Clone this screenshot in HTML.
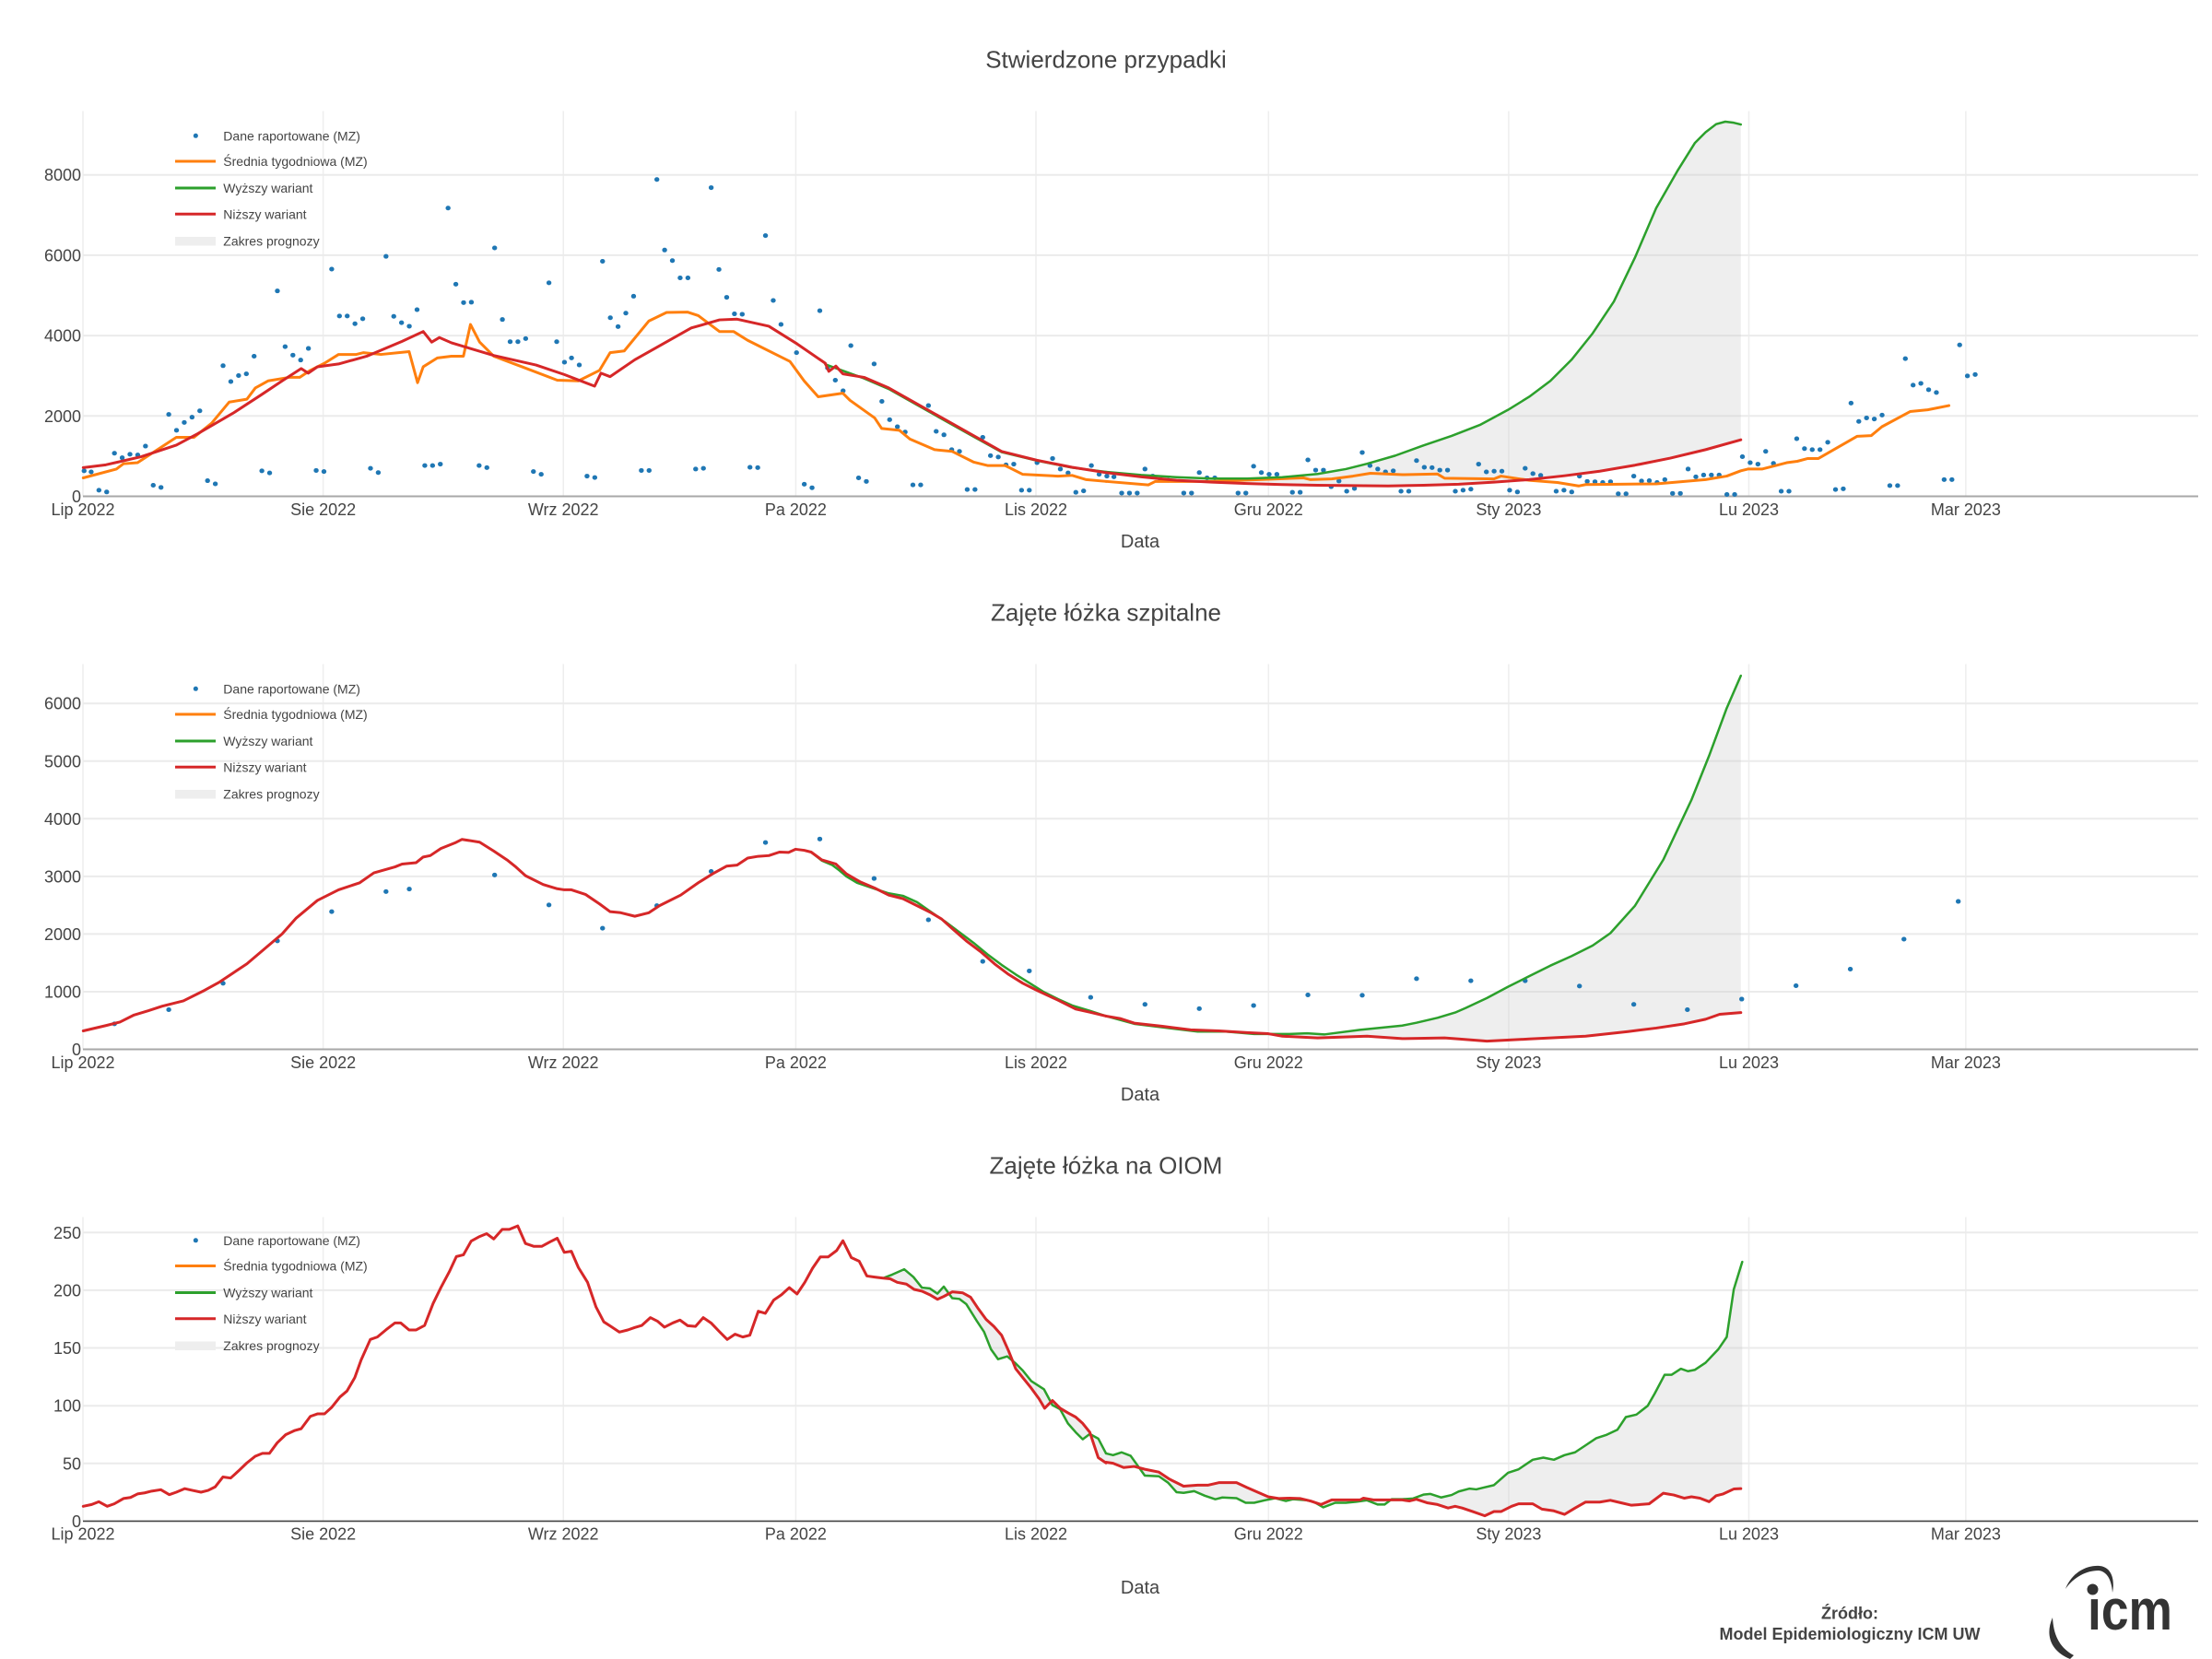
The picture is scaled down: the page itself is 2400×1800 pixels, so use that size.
<!DOCTYPE html>
<html><head><meta charset="utf-8"><style>
html,body{margin:0;padding:0;background:#fff}
svg{display:block}
text{font-family:"Liberation Sans",sans-serif;fill:#444}
.t{font-size:26px}
.tk{font-size:18px}
.lg{font-size:14px}
.ax{font-size:20px}
.ln{fill:none;stroke-linejoin:round;stroke-linecap:round}
</style></head><body>
<svg width="2400" height="1800" viewBox="0 0 2400 1800" xmlns="http://www.w3.org/2000/svg">
<rect width="2400" height="1800" fill="#fff"/>
<defs>
<g id="vg">
<path d="M90 0V418M350.6 0V418M611.2 0V418M863.4 0V418M1124 0V418M1376.3 0V418M1636.9 0V418M1897.5 0V418M2132.9 0V418" stroke="#eeeeee" stroke-width="1.5"/>
</g>
<g id="xl">
<text class="tk" x="90" text-anchor="middle">Lip 2022</text>
<text class="tk" x="350.6" text-anchor="middle">Sie 2022</text>
<text class="tk" x="611.2" text-anchor="middle">Wrz 2022</text>
<text class="tk" x="863.4" text-anchor="middle">Pa 2022</text>
<text class="tk" x="1124" text-anchor="middle">Lis 2022</text>
<text class="tk" x="1376.3" text-anchor="middle">Gru 2022</text>
<text class="tk" x="1636.9" text-anchor="middle">Sty 2023</text>
<text class="tk" x="1897.5" text-anchor="middle">Lu 2023</text>
<text class="tk" x="2132.9" text-anchor="middle">Mar 2023</text>
</g>
<g id="leg">
<path d="M212.3 147.3h0.1" stroke="#1f77b4" stroke-width="5" stroke-linecap="round"/>
<path d="M190 175H234" stroke="#ff7f0e" stroke-width="3"/>
<path d="M190 204H234" stroke="#2ca02c" stroke-width="3"/>
<path d="M190 232.3H234" stroke="#d62728" stroke-width="3"/>
<rect x="190" y="257" width="44" height="9.5" fill="#eeeeee"/>
<text class="lg" x="242.3" y="152.3">Dane raportowane (MZ)</text>
<text class="lg" x="242.3" y="180">Średnia tygodniowa (MZ)</text>
<text class="lg" x="242.3" y="209">Wyższy wariant</text>
<text class="lg" x="242.3" y="237.3">Niższy wariant</text>
<text class="lg" x="242.3" y="266.7">Zakres prognozy</text>
</g>
</defs>

<!-- ============ CHART 1 ============ -->
<text class="t" x="1200" y="73.5" text-anchor="middle">Stwierdzone przypadki</text>
<use href="#vg" transform="translate(0,120.5)"/>
<path d="M90 451.3H2385M90 364.1H2385M90 276.9H2385M90 189.7H2385" stroke="#ebebeb" stroke-width="2"/>
<g text-anchor="end">
<text class="tk" x="88" y="545">0</text>
<text class="tk" x="88" y="457.8">2000</text>
<text class="tk" x="88" y="370.6">4000</text>
<text class="tk" x="88" y="283.4">6000</text>
<text class="tk" x="88" y="196.2">8000</text>
</g>
<use href="#xl" transform="translate(0,559)"/>
<text class="ax" x="1237" y="594" text-anchor="middle">Data</text>
<path d="M90 538.5H2385" stroke="#a8a8a8" stroke-width="2"/>

<g transform="translate(1200,0) scale(0.76531,0.38265)">
<path fill="#c8c8c8" fill-opacity="0.3" fill-rule="evenodd" d="M0 1338L50 1347L100 1353L150 1357L200 1357L250 1353L300 1344L340 1330L370 1315L410 1292L450 1263L490 1236L530 1205L570 1162L600 1125L630 1080L660 1020L690 945L720 855L750 730L780 590L810 485L835 405L850 375L865 352L878 345L890 348L900 353L900 1407L0 1407Z M0 1340L50 1352L100 1362L150 1367L200 1371L250 1374L300 1376L350 1377L400 1378L450 1376L500 1373L550 1367L600 1360L650 1349L700 1336L750 1319L800 1299L850 1275L900 1247L900 1407L0 1407Z"/>
</g>

<g transform="scale(0.76531,0.38265)">
<path fill="none" stroke="#1f77b4" stroke-width="5" stroke-linecap="round" vector-effect="non-scaling-stroke" d="M119 1335h.5M129 1338h.5M140 1390h.5M151 1395h.5M162 1285h.5M173 1298h.5M184 1288h.5M195 1290h.5M206 1265h.5M217 1376h.5M228 1382h.5M239 1175h.5M250 1220h.5M261 1198h.5M272 1183h.5M283 1165h.5M294 1363h.5M305 1372h.5M316 1037h.5M327 1082h.5M338 1065h.5M349 1060h.5M360 1010h.5M371 1335h.5M382 1341h.5M393 825h.5M404 983h.5M415 1007h.5M426 1021h.5M437 988h.5M448 1334h.5M459 1337h.5M470 763h.5M481 896h.5M492 896h.5M503 918h.5M514 904h.5M525 1328h.5M536 1340h.5M547 727h.5M558 897h.5M569 915h.5M580 925h.5M591 878h.5M602 1320h.5M613 1320h.5M624 1316h.5M635 590h.5M646 806h.5M657 858h.5M668 857h.5M679 1320h.5M690 1326h.5M701 703h.5M712 906h.5M723 969h.5M734 969h.5M745 960h.5M756 1337h.5M767 1345h.5M778 802h.5M789 969h.5M800 1027h.5M810 1015h.5M821 1035h.5M832 1350h.5M843 1354h.5M854 741h.5M865 901h.5M876 926h.5M887 888h.5M898 840h.5M909 1334h.5M920 1334h.5M931 509h.5M942 709h.5M953 739h.5M964 788h.5M975 788h.5M986 1330h.5M997 1328h.5M1008 532h.5M1019 764h.5M1030 843h.5M1041 890h.5M1052 891h.5M1063 1325h.5M1074 1326h.5M1085 668h.5M1096 852h.5M1107 920h.5M1129 1000h.5M1140 1373h.5M1151 1383h.5M1162 881h.5M1173 1043h.5M1184 1078h.5M1195 1108h.5M1206 980h.5M1217 1355h.5M1228 1365h.5M1239 1032h.5M1250 1138h.5M1261 1190h.5M1272 1210h.5M1283 1225h.5M1294 1375h.5M1305 1375h.5M1316 1150h.5M1327 1223h.5M1338 1233h.5M1349 1275h.5M1360 1280h.5M1371 1388h.5M1382 1388h.5M1393 1240h.5M1404 1292h.5M1415 1296h.5M1426 1318h.5M1437 1316h.5M1448 1390h.5M1459 1390h.5M1470 1312h.5M1492 1300h.5M1503 1330h.5M1514 1341h.5M1525 1396h.5M1536 1392h.5M1547 1320h.5M1558 1345h.5"/>
<polyline class="ln" stroke="#ff7f0e" stroke-width="3" vector-effect="non-scaling-stroke" points="118,1355 165,1330 175,1315 195,1312 250,1240 275,1240 300,1200 325,1140 350,1132 362,1100 380,1080 410,1070 425,1070 440,1050 460,1030 480,1005 505,1005 515,1000 540,1005 580,997 592,1085 600,1040 620,1015 640,1010 657,1010 667,920 680,970 700,1010 740,1040 790,1078 820,1080 850,1050 865,1000 885,995 920,910 945,886 975,885 990,895 1020,940 1040,940 1060,965 1100,1005 1120,1025 1140,1080 1160,1125 1195,1115 1205,1135 1240,1185 1250,1215 1275,1220 1290,1245 1325,1275 1350,1280 1380,1310 1400,1320 1425,1320 1450,1345 1500,1350 1520,1348 1540,1360 1568,1365"/>
<polyline class="ln" stroke="#2ca02c" stroke-width="2.5" vector-effect="non-scaling-stroke" points="1170,1033 1225,1073 1260,1103 1300,1148 1340,1193 1380,1238 1420,1282 1470,1306 1520,1326 1568,1338"/>
<polyline class="ln" stroke="#d62728" stroke-width="3" vector-effect="non-scaling-stroke" points="118,1326 150,1318 200,1295 250,1262 280,1230 330,1172 370,1120 400,1080 427,1045 437,1058 450,1040 480,1032 520,1010 570,968 600,940 612,970 623,957 640,972 700,1008 760,1035 800,1062 843,1095 852,1058 865,1068 900,1020 940,975 980,930 1020,907 1045,905 1090,925 1130,975 1170,1030 1175,1053 1185,1038 1195,1060 1225,1070 1260,1100 1300,1145 1340,1190 1380,1235 1420,1280 1470,1305 1520,1325 1568,1340"/>
</g>

<g transform="translate(1200,0) scale(0.76531,0.38265)">
<path fill="none" stroke="#1f77b4" stroke-width="5" stroke-linecap="round" vector-effect="non-scaling-stroke" d="M1 1350h.5M11 1352h.5M22 1398h.5M33 1398h.5M44 1398h.5M55 1330h.5M66 1350h.5M77 1360h.5M88 1362h.5M110 1398h.5M121 1398h.5M132 1340h.5M143 1355h.5M154 1355h.5M187 1398h.5M198 1398h.5M209 1322h.5M220 1340h.5M231 1345h.5M242 1345h.5M264 1396h.5M275 1396h.5M286 1304h.5M297 1333h.5M308 1333h.5M319 1380h.5M330 1364h.5M341 1393h.5M352 1385h.5M363 1283h.5M374 1320h.5M385 1330h.5M396 1338h.5M407 1335h.5M418 1393h.5M429 1393h.5M440 1306h.5M451 1325h.5M462 1326h.5M473 1333h.5M484 1333h.5M495 1393h.5M506 1390h.5M517 1387h.5M528 1316h.5M539 1338h.5M550 1336h.5M561 1336h.5M572 1390h.5M583 1395h.5M594 1328h.5M605 1343h.5M616 1348h.5M638 1393h.5M649 1390h.5M660 1395h.5M671 1350h.5M682 1365h.5M693 1366h.5M704 1368h.5M715 1366h.5M726 1400h.5M737 1400h.5M748 1350h.5M759 1364h.5M770 1363h.5M781 1368h.5M792 1360h.5M803 1399h.5M814 1399h.5M825 1330h.5M836 1352h.5M847 1347h.5M858 1347h.5M869 1347h.5M880 1402h.5M891 1402h.5M902 1295h.5M913 1312h.5M924 1316h.5M935 1280h.5M946 1314h.5M957 1393h.5M968 1393h.5M979 1244h.5M990 1272h.5M1001 1275h.5M1012 1275h.5M1023 1254h.5M1034 1388h.5M1045 1386h.5M1056 1143h.5M1067 1195h.5M1078 1185h.5M1089 1188h.5M1100 1177h.5M1111 1377h.5M1122 1377h.5M1133 1017h.5M1144 1092h.5M1155 1087h.5M1166 1105h.5M1177 1113h.5M1188 1360h.5M1199 1360h.5M1210 978h.5M1221 1066h.5M1232 1062h.5"/>
<polyline class="ln" stroke="#ff7f0e" stroke-width="3" vector-effect="non-scaling-stroke" points="0,1365 60,1375 70,1365 150,1365 280,1355 290,1360 320,1358 350,1350 375,1342 420,1346 470,1344 480,1356 550,1358 560,1350 600,1362 640,1368 670,1378 680,1374 780,1372 850,1360 880,1350 900,1335 910,1330 930,1330 965,1312 980,1308 995,1300 1010,1300 1065,1237 1085,1235 1100,1210 1140,1167 1165,1162 1195,1150"/>
<polyline class="ln" stroke="#2ca02c" stroke-width="2.5" vector-effect="non-scaling-stroke" points="0,1338 50,1347 100,1353 150,1357 200,1357 250,1353 300,1344 340,1330 370,1315 410,1292 450,1263 490,1236 530,1205 570,1162 600,1125 630,1080 660,1020 690,945 720,855 750,730 780,590 810,485 835,405 850,375 865,352 878,345 890,348 900,353"/>
<polyline class="ln" stroke="#d62728" stroke-width="3" vector-effect="non-scaling-stroke" points="0,1340 50,1352 100,1362 150,1367 200,1371 250,1374 300,1376 350,1377 400,1378 450,1376 500,1373 550,1367 600,1360 650,1349 700,1336 750,1319 800,1299 850,1275 900,1247"/>
</g>
<use href="#leg"/>

<!-- ============ CHART 2 ============ -->
<text class="t" x="1200" y="673.5" text-anchor="middle">Zajęte łóżka szpitalne</text>
<use href="#vg" transform="translate(0,720.5)"/>
<path d="M90 1076H2385M90 1013.4H2385M90 950.9H2385M90 888.3H2385M90 825.8H2385M90 763.2H2385" stroke="#ebebeb" stroke-width="2"/>
<g text-anchor="end">
<text class="tk" x="88" y="1145">0</text>
<text class="tk" x="88" y="1082.5">1000</text>
<text class="tk" x="88" y="1019.9">2000</text>
<text class="tk" x="88" y="957.4">3000</text>
<text class="tk" x="88" y="894.8">4000</text>
<text class="tk" x="88" y="832.3">5000</text>
<text class="tk" x="88" y="769.7">6000</text>
</g>
<use href="#xl" transform="translate(0,1159)"/>
<text class="ax" x="1237" y="1194" text-anchor="middle">Data</text>
<path d="M90 1138.5H2385" stroke="#a8a8a8" stroke-width="2"/>

<g transform="translate(1200,600) scale(0.76531,0.38265)">
<path fill="#c8c8c8" fill-opacity="0.3" fill-rule="evenodd" d="M0 1313L40 1335L80 1345L130 1357L170 1357L210 1364L260 1364L285 1362L310 1365L360 1352L420 1340L440 1332L470 1318L495 1303L510 1290L540 1262L570 1230L600 1200L630 1170L660 1143L690 1113L715 1078L750 1000L790 870L830 700L855 575L880 440L900 348L900 1407L0 1407Z M0 1313L20 1320L40 1333L80 1342L120 1352L160 1355L200 1360L230 1363L250 1370L300 1375L370 1370L420 1377L480 1375L500 1378L540 1384L600 1378L680 1370L740 1357L780 1347L820 1335L850 1322L870 1308L900 1303L900 1407L0 1407Z"/>
</g>
<g transform="translate(0,600) scale(0.76531,0.38265)">
<path fill="none" stroke="#1f77b4" stroke-width="5" stroke-linecap="round" vector-effect="non-scaling-stroke" d="M162 1335h.5M239 1295h.5M316 1220h.5M393 1100h.5M470 1017h.5M547 960h.5M580 953h.5M701 913h.5M778 998h.5M854 1064h.5M931 1000h.5M1008 903h.5M1085 821h.5M1162 811h.5M1239 923h.5M1316 1040h.5M1393 1158h.5M1459 1185h.5M1546 1260h.5"/>
<polyline class="ln" stroke="#2ca02c" stroke-width="2.5" vector-effect="non-scaling-stroke" points="1150,848 1165,872 1180,885 1190,900 1200,917 1215,935 1240,952 1260,965 1280,972 1300,990 1320,1018 1340,1045 1360,1075 1380,1105 1400,1138 1420,1168 1440,1195 1460,1220 1480,1245 1500,1265 1520,1283 1545,1298 1568,1313"/>
<polyline class="ln" stroke="#d62728" stroke-width="3" vector-effect="non-scaling-stroke" points="118,1355 150,1340 170,1330 190,1310 210,1298 230,1285 260,1270 290,1240 310,1218 350,1165 400,1080 420,1035 450,985 480,955 510,935 530,907 560,890 570,882 590,878 600,862 610,858 625,838 645,822 655,812 680,820 700,845 720,872 730,888 745,915 770,940 790,952 800,955 810,955 830,968 850,995 865,1017 880,1020 900,1030 920,1020 935,1000 965,970 990,935 1010,910 1030,888 1045,885 1060,865 1075,860 1090,858 1105,848 1118,849 1128,840 1140,843 1150,848 1165,870 1185,882 1200,910 1220,933 1240,950 1260,970 1280,980 1300,1000 1320,1020 1335,1038 1350,1065 1370,1100 1390,1130 1410,1165 1430,1195 1450,1220 1470,1240 1500,1268 1525,1293 1545,1302 1568,1313"/>
</g>
<g transform="translate(1200,600) scale(0.76531,0.38265)">
<path fill="none" stroke="#1f77b4" stroke-width="5" stroke-linecap="round" vector-effect="non-scaling-stroke" d="M55 1280h.5M132 1292h.5M209 1283h.5M286 1253h.5M363 1254h.5M440 1207h.5M517 1213h.5M594 1213h.5M671 1228h.5M748 1280h.5M824 1295h.5M901 1265h.5M978 1227h.5M1055 1180h.5M1131 1095h.5M1208 988h.5"/>
<polyline class="ln" stroke="#2ca02c" stroke-width="2.5" vector-effect="non-scaling-stroke" points="0,1313 40,1335 80,1345 130,1357 170,1357 210,1364 260,1364 285,1362 310,1365 360,1352 420,1340 440,1332 470,1318 495,1303 510,1290 540,1262 570,1230 600,1200 630,1170 660,1143 690,1113 715,1078 750,1000 790,870 830,700 855,575 880,440 900,348"/>
<polyline class="ln" stroke="#d62728" stroke-width="3" vector-effect="non-scaling-stroke" points="0,1313 20,1320 40,1333 80,1342 120,1352 160,1355 200,1360 230,1363 250,1370 300,1375 370,1370 420,1377 480,1375 500,1378 540,1384 600,1378 680,1370 740,1357 780,1347 820,1335 850,1322 870,1308 900,1303"/>
</g>
<use href="#leg" transform="translate(0,600)"/>

<!-- ============ CHART 3 ============ -->
<text class="t" x="1200" y="1273.5" text-anchor="middle">Zajęte łóżka na OIOM</text>
<use href="#vg" transform="translate(0,1320.5) scale(1,0.7892)"/>
<path d="M90 1587.8H2385M90 1525.2H2385M90 1462.5H2385M90 1399.9H2385M90 1337.3H2385" stroke="#ebebeb" stroke-width="2"/>
<g text-anchor="end">
<text class="tk" x="88" y="1656.9">0</text>
<text class="tk" x="88" y="1594.3">50</text>
<text class="tk" x="88" y="1531.7">100</text>
<text class="tk" x="88" y="1469">150</text>
<text class="tk" x="88" y="1406.4">200</text>
<text class="tk" x="88" y="1343.8">250</text>
</g>
<use href="#xl" transform="translate(0,1670.5)"/>
<text class="ax" x="1237" y="1729" text-anchor="middle">Data</text>
<path d="M90 1650.4H2385" stroke="#444" stroke-width="1.6"/>

<g transform="translate(0,1200) scale(0.76531,0.38265)">
<path fill="#c8c8c8" fill-opacity="0.3" fill-rule="evenodd" d="M1252 488L1265 478L1282 463L1295 485L1307 515L1318 517L1329 532L1338 512L1350 545L1360 547L1370 562L1385 610L1395 640L1405 690L1415 718L1428 710L1440 730L1450 750L1462 780L1480 803L1492 848L1503 860L1514 900L1525 925L1535 945L1545 930L1557 943L1568 985L1568 1177L1252 1177Z M1252 488L1262 490L1272 500L1285 505L1296 520L1307 525L1318 535L1329 548L1338 540L1350 527L1365 530L1376 542L1387 575L1398 605L1409 625L1420 650L1430 695L1440 745L1450 770L1462 800L1473 830L1481 857L1492 835L1503 857L1514 870L1525 882L1535 900L1545 925L1557 997L1568 1012L1568 1177L1252 1177Z"/>
<polyline class="ln" stroke="#2ca02c" stroke-width="2.5" vector-effect="non-scaling-stroke" points="1252,488 1265,478 1282,463 1295,485 1307,515 1318,517 1329,532 1338,512 1350,545 1360,547 1370,562 1385,610 1395,640 1405,690 1415,718 1428,710 1440,730 1450,750 1462,780 1480,803 1492,848 1503,860 1514,900 1525,925 1535,945 1545,930 1557,943 1568,985"/>
<polyline class="ln" stroke="#d62728" stroke-width="3" vector-effect="non-scaling-stroke" points="118,1135 130,1130 140,1122 152,1135 162,1128 175,1113 185,1110 195,1100 205,1097 215,1092 228,1088 240,1102 250,1095 262,1085 273,1090 285,1095 295,1090 305,1080 316,1052 327,1055 338,1035 350,1012 362,993 372,985 382,985 393,955 405,932 418,920 427,915 440,880 450,873 460,873 470,855 482,825 492,808 503,770 512,720 525,662 535,655 547,635 560,615 568,615 580,635 590,635 602,622 614,560 625,515 637,470 647,427 657,422 668,383 680,370 690,362 700,377 712,350 722,350 734,340 745,390 757,398 768,398 780,385 790,375 800,415 810,412 820,458 833,500 845,570 856,612 866,625 878,641 890,635 900,628 910,622 922,600 932,610 942,627 954,615 964,607 975,623 986,625 997,600 1008,615 1020,640 1031,662 1042,647 1053,655 1063,650 1075,582 1085,588 1097,550 1108,535 1119,515 1130,533 1141,500 1152,460 1163,428 1174,428 1186,410 1195,382 1207,430 1218,440 1229,482 1240,485 1252,488 1262,490 1272,500 1285,505 1296,520 1307,525 1318,535 1329,548 1338,540 1350,527 1365,530 1376,542 1387,575 1398,605 1409,625 1420,650 1430,695 1440,745 1450,770 1462,800 1473,830 1481,857 1492,835 1503,857 1514,870 1525,882 1535,900 1545,925 1557,997 1568,1012"/>
</g>
<g transform="translate(1200,1200) scale(0.76531,0.38265)">
<path fill="#c8c8c8" fill-opacity="0.3" fill-rule="evenodd" d="M0 985L10 990L22 982L35 992L45 1020L55 1048L75 1050L88 1068L100 1095L110 1097L125 1092L140 1105L155 1115L165 1110L185 1112L198 1125L210 1125L225 1118L240 1112L255 1120L265 1115L285 1118L295 1123L308 1138L325 1125L340 1125L355 1122L370 1118L385 1130L395 1130L405 1115L420 1115L435 1113L450 1102L460 1100L475 1110L490 1103L500 1093L515 1085L525 1087L535 1082L550 1075L570 1040L585 1030L605 1003L620 997L635 1003L650 990L665 982L680 962L695 942L710 932L725 918L737 882L752 875L768 850L778 815L792 762L802 762L815 745L825 752L835 748L850 728L868 690L880 655L890 520L902 442L902 1177L0 1177Z M0 1010L10 1013L25 1025L40 1022L55 1030L75 1038L90 1058L110 1078L130 1075L145 1075L160 1068L185 1068L200 1082L215 1095L230 1108L245 1113L260 1112L275 1113L290 1120L305 1130L320 1117L340 1117L360 1117L365 1112L380 1117L400 1117L420 1117L430 1120L440 1115L455 1125L470 1130L485 1140L495 1135L505 1140L520 1150L537 1162L550 1150L560 1150L575 1135L585 1128L605 1128L618 1143L635 1148L650 1158L665 1140L680 1123L700 1123L715 1118L730 1125L745 1132L770 1128L790 1098L805 1103L820 1112L830 1108L842 1112L855 1122L865 1105L875 1100L890 1086L902 1085L902 1177L0 1177Z"/>
<polyline class="ln" stroke="#2ca02c" stroke-width="2.5" vector-effect="non-scaling-stroke" points="0,985 10,990 22,982 35,992 45,1020 55,1048 75,1050 88,1068 100,1095 110,1097 125,1092 140,1105 155,1115 165,1110 185,1112 198,1125 210,1125 225,1118 240,1112 255,1120 265,1115 285,1118 295,1123 308,1138 325,1125 340,1125 355,1122 370,1118 385,1130 395,1130 405,1115 420,1115 435,1113 450,1102 460,1100 475,1110 490,1103 500,1093 515,1085 525,1087 535,1082 550,1075 570,1040 585,1030 605,1003 620,997 635,1003 650,990 665,982 680,962 695,942 710,932 725,918 737,882 752,875 768,850 778,815 792,762 802,762 815,745 825,752 835,748 850,728 868,690 880,655 890,520 902,442"/>
<polyline class="ln" stroke="#d62728" stroke-width="3" vector-effect="non-scaling-stroke" points="0,1010 10,1013 25,1025 40,1022 55,1030 75,1038 90,1058 110,1078 130,1075 145,1075 160,1068 185,1068 200,1082 215,1095 230,1108 245,1113 260,1112 275,1113 290,1120 305,1130 320,1117 340,1117 360,1117 365,1112 380,1117 400,1117 420,1117 430,1120 440,1115 455,1125 470,1130 485,1140 495,1135 505,1140 520,1150 537,1162 550,1150 560,1150 575,1135 585,1128 605,1128 618,1143 635,1148 650,1158 665,1140 680,1123 700,1123 715,1118 730,1125 745,1132 770,1128 790,1098 805,1103 820,1112 830,1108 842,1112 855,1122 865,1105 875,1100 890,1086 900,1085"/>
</g>
<use href="#leg" transform="translate(0,1198.5)"/>

<!-- footer -->
<text x="2007" y="1756.5" text-anchor="middle" font-size="18" font-weight="bold">Źródło:</text>
<text x="2007" y="1779" text-anchor="middle" font-size="18" font-weight="bold">Model Epidemiologiczny ICM UW</text>
<g fill="#333">
<path d="M2241 1724 C2248 1706 2264 1698 2278 1699 C2290 1700 2295 1712 2292 1728 C2291 1714 2286 1705 2277 1704 C2264 1704 2250 1711 2241 1724 Z"/>
<path d="M2227 1755 C2219 1773 2224 1791 2246 1800 L2250 1796 C2233 1787 2228 1772 2227 1755 Z"/>
<circle cx="2270.5" cy="1724.5" r="6"/>
</g>
<text x="2265" y="1768" font-size="62" font-weight="bold" textLength="92" lengthAdjust="spacingAndGlyphs" style="fill:#333">ıcm</text>
</svg>
</body></html>
